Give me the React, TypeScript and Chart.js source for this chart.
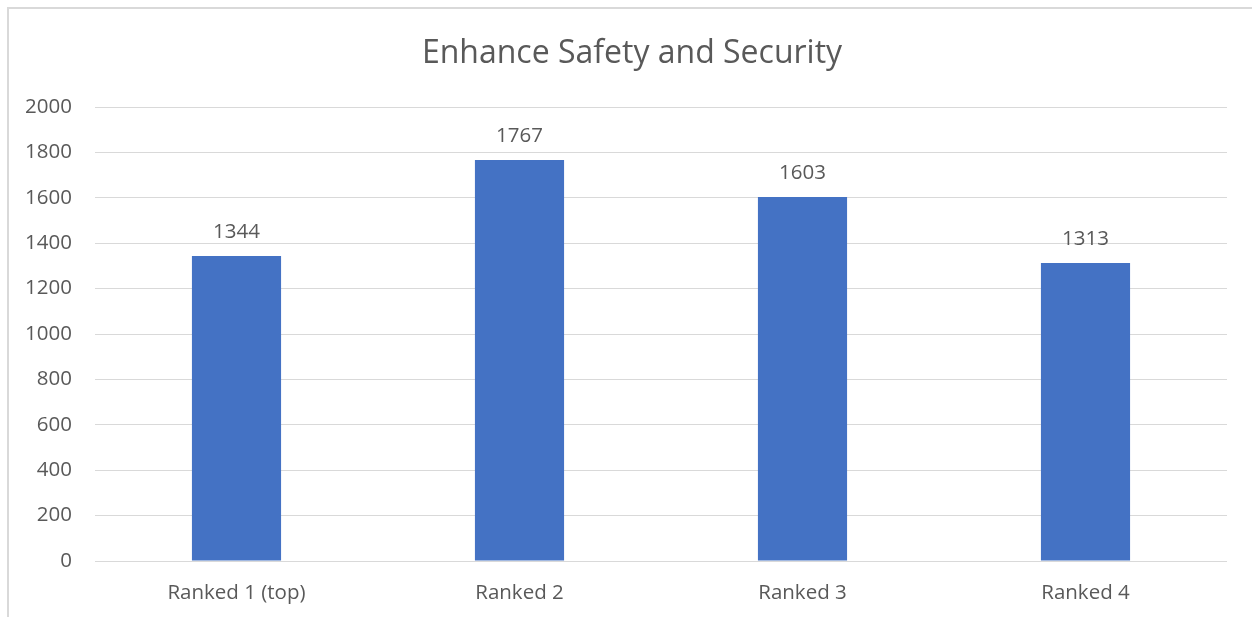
import React, { useEffect, useRef } from "react";
import { Chart, registerables } from "chart.js";

Chart.register(...registerables);

const categories = ["Ranked 1 (top)", "Ranked 2", "Ranked 3", "Ranked 4"];
const values = [1344, 1767, 1603, 1313];
const yTicks = [0, 200, 400, 600, 800, 1000, 1200, 1400, 1600, 1800, 2000];
const titleText = "Enhance Safety and Security";

const FONT = "'Open Sans', 'Noto Sans', sans-serif";
const TEXT = "#595959";

const dataLabels = {
  id: "dataLabels",
  afterDatasetsDraw(chart: any) {
    const ctx = chart.ctx;
    const meta = chart.getDatasetMeta(0);
    ctx.save();
    ctx.font = `20.5px ${FONT}`;
    ctx.fillStyle = TEXT;
    ctx.textAlign = "center";
    ctx.textBaseline = "middle";
    meta.data.forEach((bar: any, i: number) => {
      ctx.fillText(String(values[i]), bar.x, bar.y - 24);
    });
    ctx.restore();
  },
};

const chartTitle = {
  id: "chartTitle",
  afterDraw(chart: any) {
    const ctx = chart.ctx;
    ctx.save();
    ctx.font = `32px ${FONT}`;
    ctx.fillStyle = TEXT;
    ctx.textAlign = "center";
    ctx.textBaseline = "alphabetic";
    ctx.fillText(titleText, 632, 63);
    ctx.restore();
  },
};

export default function App() {
  const ref = useRef<HTMLCanvasElement | null>(null);
  useEffect(() => {
    if (!ref.current) return;
    const chart = new Chart(ref.current, {
      type: "bar",
      data: {
        labels: categories,
        datasets: [
          {
            data: values,
            backgroundColor: "#4472C4",
            borderWidth: 0,
            categoryPercentage: 1,
            barPercentage: 0.315,
          },
        ],
      },
      options: {
        animation: false,
        responsive: false,
        maintainAspectRatio: false,
        layout: { padding: { left: 0, right: 25, top: 107, bottom: 0 } },
        plugins: {
          legend: { display: false },
          tooltip: { enabled: false },
          title: { display: false },
        },
        scales: {
          x: {
            grid: { display: false, drawTicks: false },
            border: { display: false },
            ticks: {
              color: TEXT,
              font: { family: FONT, size: 20.5 },
              padding: 20,
              maxRotation: 0,
              autoSkip: false,
            },
            afterFit(s: any) {
              s.height = 56;
            },
          },
          y: {
            min: 0,
            max: 2000,
            afterBuildTicks(s: any) {
              s.ticks = yTicks.map((v) => ({ value: v }));
            },
            grid: { color: "#d9d9d9", lineWidth: 1, drawTicks: false },
            border: { display: false },
            ticks: {
              color: TEXT,
              font: { family: FONT, size: 20.5 },
              padding: 23,
              callback: (v: any) => String(v),
            },
            afterFit(s: any) {
              s.width = 95;
            },
          },
        },
      },
      plugins: [dataLabels, chartTitle],
    });
    return () => chart.destroy();
  }, []);

  return (
    <div
      style={{
        position: "fixed",
        left: 0,
        top: 0,
        width: 1252,
        height: 617,
        overflow: "hidden",
        background: "#ffffff",
      }}
    >
      <div
        style={{
          position: "absolute",
          left: 7,
          top: 7,
          width: 1270,
          height: 640,
          border: "2px solid #d9d9d9",
          boxSizing: "border-box",
        }}
      />
      <canvas
        ref={ref}
        width={1252}
        height={617}
        style={{ position: "absolute", left: 0, top: 0, width: 1252, height: 617 }}
      />
    </div>
  );
}
